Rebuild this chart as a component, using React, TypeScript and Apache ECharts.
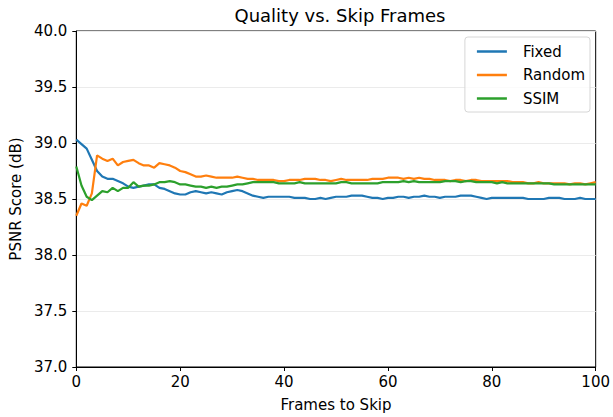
import React, { useEffect, useRef } from "react";
import * as echarts from "echarts";

const frames: number[] = Array.from({ length: 101 }, (_, i) => i);

const fixedVals: number[] = [
  39.03, 38.99, 38.95, 38.85, 38.75, 38.70, 38.68, 38.68, 38.66, 38.64,
  38.61, 38.60, 38.61, 38.62, 38.63, 38.63, 38.60, 38.59, 38.57, 38.55,
  38.54, 38.54, 38.56, 38.57, 38.56, 38.55, 38.56, 38.55, 38.54, 38.56,
  38.57, 38.58, 38.57, 38.55, 38.53, 38.52, 38.51, 38.52, 38.52, 38.52,
  38.52, 38.52, 38.51, 38.51, 38.51, 38.50, 38.50, 38.51, 38.50, 38.51,
  38.52, 38.52, 38.52, 38.53, 38.53, 38.53, 38.52, 38.51, 38.51, 38.50,
  38.51, 38.51, 38.52, 38.52, 38.51, 38.52, 38.52, 38.53, 38.52, 38.52,
  38.51, 38.52, 38.52, 38.52, 38.53, 38.53, 38.53, 38.52, 38.51, 38.50,
  38.51, 38.51, 38.51, 38.51, 38.51, 38.51, 38.51, 38.50, 38.50, 38.50,
  38.50, 38.51, 38.51, 38.51, 38.50, 38.50, 38.50, 38.51, 38.50, 38.50,
  38.50,
];

const randomVals: number[] = [
  38.35, 38.46, 38.44, 38.55, 38.89, 38.86, 38.84, 38.86, 38.80, 38.83,
  38.84, 38.85, 38.82, 38.80, 38.80, 38.78, 38.82, 38.81, 38.80, 38.78,
  38.75, 38.74, 38.72, 38.70, 38.70, 38.71, 38.70, 38.69, 38.69, 38.69,
  38.69, 38.70, 38.69, 38.68, 38.68, 38.67, 38.67, 38.67, 38.67, 38.66,
  38.66, 38.67, 38.67, 38.67, 38.68, 38.68, 38.68, 38.67, 38.67, 38.66,
  38.67, 38.68, 38.67, 38.67, 38.67, 38.67, 38.67, 38.68, 38.68, 38.68,
  38.69, 38.69, 38.69, 38.68, 38.69, 38.68, 38.69, 38.68, 38.68, 38.67,
  38.67, 38.67, 38.66, 38.67, 38.67, 38.66, 38.67, 38.67, 38.66, 38.66,
  38.66, 38.66, 38.66, 38.66, 38.65, 38.65, 38.65, 38.64, 38.64, 38.65,
  38.64, 38.64, 38.64, 38.64, 38.64, 38.63, 38.64, 38.64, 38.63, 38.64,
  38.65,
];

const ssimVals: number[] = [
  38.79, 38.62, 38.52, 38.49, 38.53, 38.57, 38.56, 38.60, 38.57, 38.60,
  38.60, 38.65, 38.61, 38.62, 38.62, 38.63, 38.65, 38.65, 38.66, 38.65,
  38.63, 38.63, 38.62, 38.61, 38.61, 38.60, 38.61, 38.60, 38.61, 38.61,
  38.62, 38.63, 38.63, 38.64, 38.65, 38.65, 38.65, 38.65, 38.65, 38.64,
  38.64, 38.64, 38.64, 38.65, 38.64, 38.64, 38.64, 38.64, 38.64, 38.64,
  38.64, 38.65, 38.65, 38.64, 38.64, 38.64, 38.64, 38.64, 38.64, 38.65,
  38.65, 38.65, 38.65, 38.66, 38.65, 38.66, 38.65, 38.65, 38.65, 38.65,
  38.65, 38.66, 38.66, 38.66, 38.65, 38.66, 38.66, 38.65, 38.65, 38.65,
  38.65, 38.64, 38.65, 38.64, 38.64, 38.64, 38.64, 38.64, 38.64, 38.64,
  38.64, 38.64, 38.63, 38.63, 38.63, 38.63, 38.63, 38.63, 38.63, 38.63,
  38.63,
];

const seriesNames: string[] = ["Fixed", "Random", "SSIM"];
const seriesColors: string[] = ["#1f77b4", "#ff7f0e", "#2ca02c"];
const seriesValues: number[][] = [fixedVals, randomVals, ssimVals];

const FONT = "DejaVu Sans";

export default function App() {
  const ref = useRef<HTMLDivElement>(null);
  useEffect(() => {
    document.body.style.margin = "0";
    if (!ref.current) return;
    const chart = echarts.init(ref.current, null, { renderer: "svg" });
    chart.setOption({
      animation: false,
      backgroundColor: "#ffffff",
      textStyle: { fontFamily: FONT },
      title: {
        text: "Quality vs. Skip Frames",
        left: 335,
        textAlign: "center",
        top: 1,
        textStyle: { fontFamily: FONT, fontSize: 18, fontWeight: "normal", color: "#000" },
      },
      legend: {
        orient: "vertical",
        right: 23,
        top: 37,
        data: seriesNames,
        icon: "rect",
        itemWidth: 30,
        itemHeight: 2.5,
        itemGap: 8.5,
        padding: [7, 5, 6, 12],
        borderColor: "#d6d6d6",
        borderWidth: 1,
        borderRadius: 3,
        backgroundColor: "rgba(255,255,255,0.8)",
        textStyle: {
          fontFamily: FONT,
          fontSize: 15,
          lineHeight: 15,
          color: "#000",
          padding: [0, 0, 0, 11],
        },
      },
      grid: {
        left: 75,
        right: 17,
        top: 31,
        bottom: 49,
        show: true,
        borderColor: "#000",
        borderWidth: 1,
        containLabel: false,
      },
      xAxis: {
        type: "value",
        min: 0,
        max: 100,
        interval: 20,
        name: "Frames to Skip",
        nameLocation: "middle",
        nameGap: 30,
        nameTextStyle: { fontFamily: FONT, fontSize: 15, color: "#000" },
        axisLine: { show: true, lineStyle: { color: "#000", width: 1 } },
        axisTick: { show: true, length: 4, lineStyle: { color: "#000" } },
        axisLabel: { fontFamily: FONT, fontSize: 15, color: "#000", margin: 7 },
        splitLine: { show: false },
      },
      yAxis: {
        type: "value",
        min: 37,
        max: 40,
        interval: 0.5,
        name: "PSNR Score (dB)",
        nameLocation: "middle",
        nameGap: 52,
        nameTextStyle: { fontFamily: FONT, fontSize: 15, color: "#000" },
        axisLine: { show: true, lineStyle: { color: "#000", width: 1 } },
        axisTick: { show: true, length: 4, lineStyle: { color: "#000" } },
        axisLabel: {
          fontFamily: FONT,
          fontSize: 15,
          color: "#000",
          margin: 9,
          formatter: (v: number) => v.toFixed(1),
        },
        splitLine: { show: true, lineStyle: { color: "#ebebeb", width: 1 } },
      },
      series: seriesNames.map((name, k) => ({
        name,
        type: "line",
        data: frames.map((f, i) => [f, seriesValues[k][i]]),
        showSymbol: false,
        symbol: "none",
        smooth: false,
        lineStyle: { color: seriesColors[k], width: 2.2 },
        itemStyle: { color: seriesColors[k] },
      })),
    });
    return () => chart.dispose();
  }, []);
  return <div ref={ref} style={{ width: 613, height: 417 }} />;
}
